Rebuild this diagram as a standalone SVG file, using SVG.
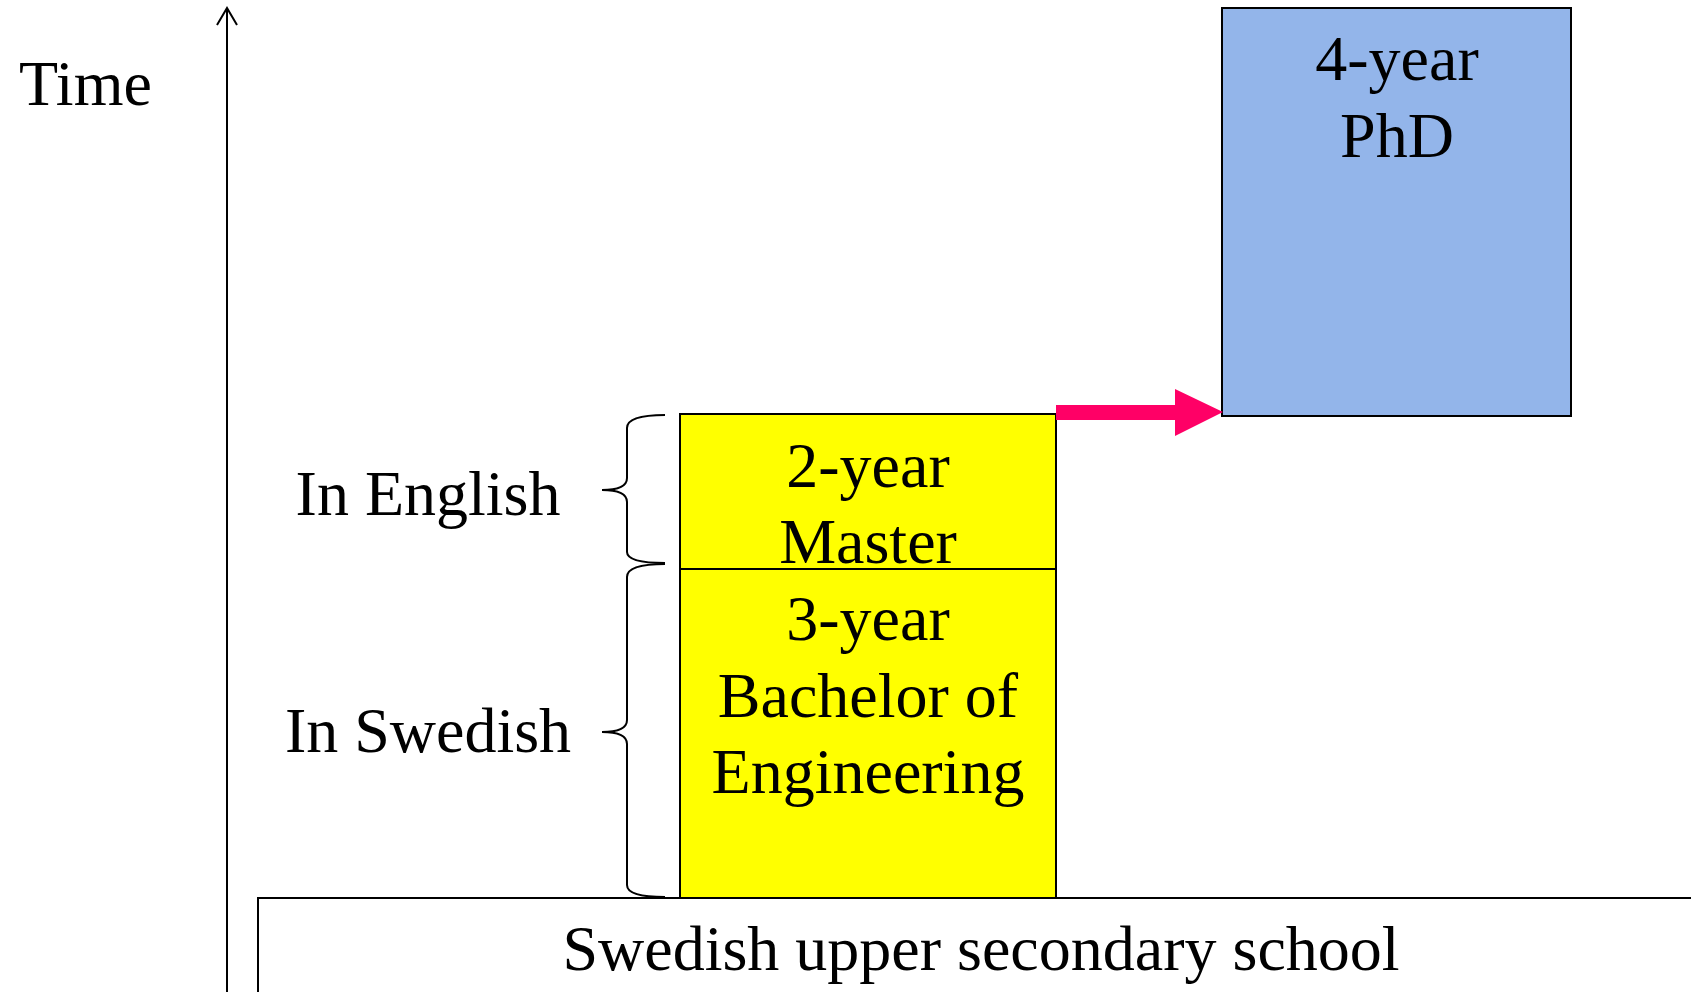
<svg xmlns="http://www.w3.org/2000/svg" width="1691" height="992" viewBox="0 0 1691 992">
<style>
text{font-family:"Liberation Serif","Times New Roman",serif;font-size:64px;fill:#000}
.c{text-anchor:middle}
.box{stroke:#000;stroke-width:2}
.brace{fill:none;stroke:#000;stroke-width:2}
</style>
<rect width="1691" height="992" fill="#fff"/>
<g id="axis">
<line x1="227" y1="8" x2="227" y2="992" stroke="#000" stroke-width="2"/>
<polyline points="217,25 227,8 237,25" fill="none" stroke="#000" stroke-width="2"/>
<text x="19" y="105">Time</text>
</g>
<g id="school">
<rect class="box" x="258" y="898" width="1500" height="200" fill="#fff"/>
<text class="c" x="981" y="970">Swedish upper secondary school</text>
</g>
<g id="bachelor">
<rect class="box" x="680" y="569" width="376" height="329" fill="#ffff00"/>
<text class="c" x="868" y="640">3-year</text>
<text class="c" x="868" y="717">Bachelor of</text>
<text class="c" x="868" y="793">Engineering</text>
</g>
<g id="master">
<rect class="box" x="680" y="414" width="376" height="155" fill="#ffff00"/>
<text class="c" x="868" y="487">2-year</text>
<text class="c" x="868" y="563">Master</text>
</g>
<g id="phd">
<rect class="box" x="1222" y="8" width="349" height="408" fill="#93b5ea"/>
<text class="c" x="1397" y="80">4-year</text>
<text class="c" x="1397" y="157">PhD</text>
</g>
<g id="english">
<path class="brace" d="M665,415 Q627,415 627,428 L627,478 Q627,490 602,490 Q627,490 627,502 L627,552 Q627,563 665,563"/>
<text class="c" x="428" y="515">In English</text>
</g>
<g id="swedish">
<path class="brace" d="M665,564 Q627,564 627,577 L627,720 Q627,732 602,732 Q627,732 627,744 L627,885 Q627,897 665,897"/>
<text class="c" x="428" y="752">In Swedish</text>
</g>
<g id="connectors">
<polygon points="1056,405 1175,405 1175,389 1223,412 1175,436 1175,420 1056,420" fill="#ff0066"/>
</g>
</svg>
